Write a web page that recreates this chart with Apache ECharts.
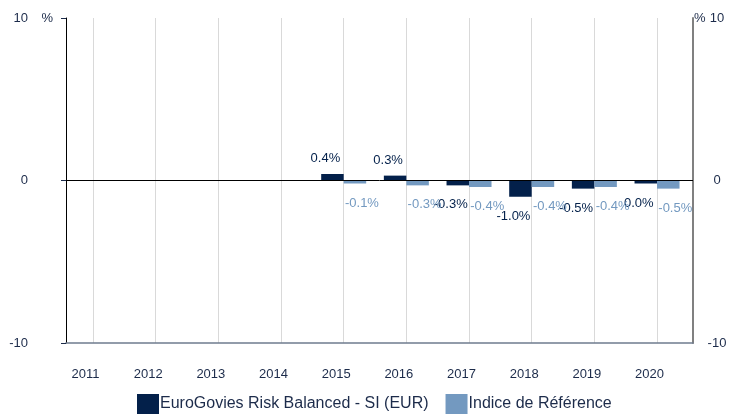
<!DOCTYPE html>
<html lang="fr">
<head>
<meta charset="UTF-8">
<title>EuroGovies Risk Balanced - SI (EUR)</title>
<script src="https://cdn.jsdelivr.net/npm/echarts@6/dist/echarts.min.js"></script>
<style>html,body{margin:0;padding:0;background:#fff;}</style>
</head>
<body>
<div id="chart" style="width:734px;height:414px;"></div>
<script>
// data (annual performance, %)
var years = [2011, 2012, 2013, 2014, 2015, 2016, 2017, 2018, 2019, 2020];
var fundValues = [null, null, null, null, 0.4, 0.3, -0.3, -1.0, -0.5, -0.04];
var indexValues = [null, null, null, null, -0.14, -0.3, -0.4, -0.4, -0.4, -0.5];
var seriesNames = ['EuroGovies Risk Balanced - SI (EUR)', 'Indice de Référence'];
var yTicks = [-10, 0, 10];

var navy = '#03204a';
var steel = '#7399c0';
var textColor = '#1c2b4a';
var fontFamily = 'Arial, "Liberation Sans", sans-serif';

var chart = echarts.init(document.getElementById('chart'));

function fmt(p) {
    var v = Math.round(p.value[1] * 10) / 10;
    return (v === 0 ? '0.0' : v.toFixed(1)) + '%';
}

function buildData(values) {
    var out = [];
    for (var i = 0; i < years.length; i++) {
        if (values[i] === null) continue;
        var neg = values[i] < 0;
        out.push({
            value: [years[i], values[i]],
            label: { position: neg ? 'bottom' : 'top', distance: neg ? 13 : 9 }
        });
    }
    return out;
}

var option = {
    animation: false,
    textStyle: { fontFamily: fontFamily },
    grid: { left: 66, right: 41, top: 18, bottom: 71, containLabel: false },
    legend: {
        left: 137,
        top: 394,
        padding: 0,
        itemWidth: 22,
        itemHeight: 20,
        itemGap: 17,
        icon: 'rect',
        textStyle: { fontSize: 16, color: textColor, fontFamily: fontFamily, padding: [0, 0, 0, -4] },
        data: seriesNames
    },
    xAxis: {
        type: 'value',
        min: 2010.569,
        max: 2020.574,
        axisLine: { show: true, onZero: false, lineStyle: { color: '#6f7c8e', width: 1.5 } },
        axisTick: { show: false, customValues: years },
        axisLabel: {
            customValues: years,
            formatter: function (v) { return String(v); },
            margin: 25,
            fontSize: 13,
            color: textColor,
            padding: [0, 15, 0, 0]
        },
        splitLine: { show: true, lineStyle: { color: '#d9d9d9', width: 1 } }
    },
    yAxis: [
        {
            type: 'value',
            position: 'left',
            min: yTicks[0],
            max: yTicks[2],
            interval: 10,
            name: '%',
            nameLocation: 'end',
            nameGap: 0,
            nameMoveOverlap: false,
            nameTextStyle: { align: 'right', verticalAlign: 'middle', padding: [0, 13, 0, 0], fontSize: 13, color: textColor },
            axisLine: { show: true, lineStyle: { color: '#000', width: 1 } },
            axisTick: { show: true, length: 5, lineStyle: { color: textColor } },
            axisLabel: { margin: 38, fontSize: 13, color: textColor },
            splitLine: { show: false }
        },
        {
            type: 'value',
            position: 'right',
            min: yTicks[0],
            max: yTicks[2],
            interval: 10,
            name: '%',
            nameLocation: 'end',
            nameGap: 0,
            nameMoveOverlap: false,
            nameTextStyle: { align: 'left', verticalAlign: 'middle', padding: [0, 0, 0, 1], fontSize: 13, color: textColor },
            axisLine: { show: true, lineStyle: { color: '#808080', width: 2 } },
            axisTick: { show: false },
            axisLabel: { margin: 24, align: 'center', fontSize: 13, color: textColor },
            splitLine: { show: false }
        }
    ],
    series: [
        {
            name: seriesNames[0],
            type: 'bar',
            barWidth: 22.5,
            barGap: '0%',
            barMinHeight: 3,
            itemStyle: { color: navy },
            label: { show: true, formatter: fmt, fontSize: 13, color: navy, offset: [-7, 0] },
            data: buildData(fundValues),
            markLine: {
                silent: true,
                symbol: 'none',
                label: { show: false },
                lineStyle: { color: '#000', width: 1, type: 'solid' },
                data: [{ yAxis: 0 }]
            }
        },
        {
            name: seriesNames[1],
            type: 'bar',
            barWidth: 22.5,
            barGap: '0%',
            barMinHeight: 3,
            itemStyle: { color: steel },
            label: { show: true, formatter: fmt, fontSize: 13, color: steel, offset: [7, 0] },
            data: buildData(indexValues)
        }
    ]
};

chart.setOption(option);
</script>
</body>
</html>
